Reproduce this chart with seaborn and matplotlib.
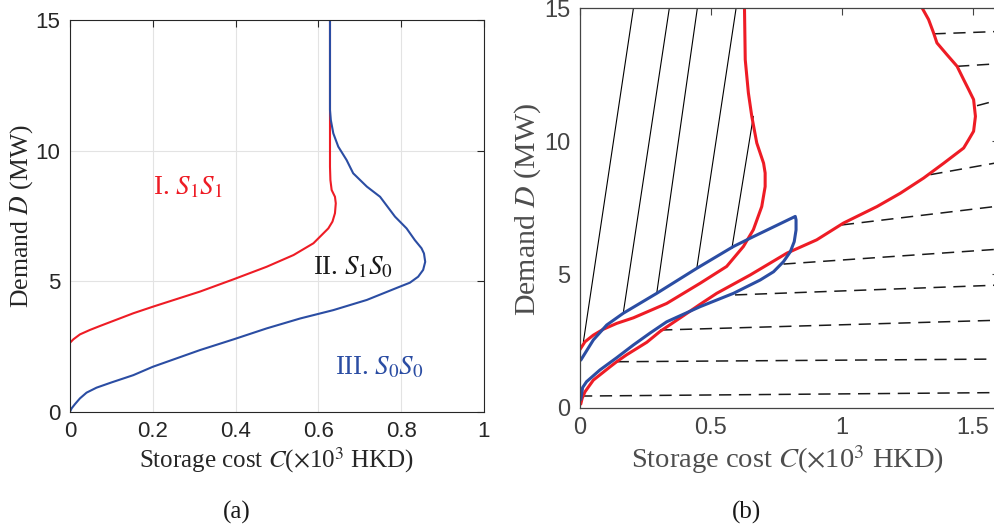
import numpy as np
import matplotlib
matplotlib.use("Agg")
import matplotlib.pyplot as plt
import seaborn as sns

# ---- panel (a): region boundaries, cost C (x1e3 HKD) vs demand D (MW)
a_red_c = [0.0, 0.008, 0.024, 0.048, 0.072, 0.153, 0.200, 0.314, 0.395, 0.475,
           0.540, 0.588, 0.624, 0.634, 0.640, 0.642, 0.640, 0.632, 0.629, 0.628,
           0.628, 0.628, 0.628]
a_red_d = [2.64, 2.77, 2.96, 3.13, 3.28, 3.77, 4.02, 4.60, 5.07, 5.55,
           6.00, 6.45, 7.02, 7.28, 7.60, 7.98, 8.23, 8.49, 8.87, 9.38,
           10.28, 11.17, 15.0]

a_blue_c = [0.0, 0.004, 0.012, 0.024, 0.040, 0.064, 0.100, 0.153, 0.200, 0.314,
            0.395, 0.475, 0.556, 0.636, 0.717, 0.797, 0.821, 0.841, 0.853, 0.858,
            0.855, 0.849, 0.833, 0.813, 0.785, 0.749, 0.717, 0.684, 0.668, 0.648,
            0.636, 0.630, 0.628, 0.628]
a_blue_d = [0.0, 0.13, 0.29, 0.51, 0.73, 0.92, 1.12, 1.40, 1.72, 2.36,
            2.77, 3.19, 3.57, 3.89, 4.28, 4.79, 4.94, 5.17, 5.43, 5.74,
            6.06, 6.26, 6.57, 7.02, 7.47, 8.23, 8.62, 9.13, 9.64, 10.15,
            10.66, 11.17, 11.55, 15.0]

region_names = [r"I. $S_1S_1$", r"II. $S_1S_0$", r"III. $S_0S_0$"]
region_c = [0.20, 0.587, 0.64]
region_d = [8.6, 5.5, 1.67]
region_colors = ["#ee1c25", "#1a1a1a", "#2b4da3"]

# ---- panel (b)
b_red1_c = [0.0, 0.019, 0.051, 0.089, 0.140, 0.204, 0.331, 0.459, 0.560, 0.624,
            0.662, 0.694, 0.707, 0.707, 0.701, 0.675, 0.656, 0.643, 0.631, 0.628]
b_red1_d = [2.18, 2.47, 2.72, 2.94, 3.16, 3.37, 3.91, 4.67, 5.30, 6.05,
            6.68, 7.55, 8.30, 8.81, 9.18, 9.94, 10.94, 11.82, 13.07, 15.08]

b_red2_c = [0.003, 0.008, 0.019, 0.051, 0.115, 0.140, 0.178, 0.255, 0.306, 0.395,
            0.459, 0.522, 0.650, 0.790, 0.904, 1.006, 1.134, 1.223, 1.312, 1.389,
            1.465, 1.484, 1.503, 1.510, 1.503, 1.484, 1.465, 1.440, 1.401, 1.363,
            1.350, 1.331, 1.306]
b_red2_d = [0.13, 0.34, 0.59, 1.03, 1.53, 1.72, 1.98, 2.45, 2.86, 3.45,
            3.88, 4.29, 4.98, 5.80, 6.30, 6.93, 7.55, 8.05, 8.62, 9.18,
            9.75, 10.06, 10.38, 10.94, 11.57, 11.95, 12.32, 12.82, 13.26, 13.70,
            14.08, 14.58, 15.02]

b_blue_c = [0.003, 0.051, 0.102, 0.165, 0.293, 0.446, 0.586, 0.662, 0.822,
            0.825, 0.825, 0.818, 0.803, 0.777, 0.739, 0.688, 0.586, 0.459,
            0.331, 0.268, 0.204, 0.140, 0.076, 0.025, 0.010, 0.003]
b_blue_d = [1.78, 2.54, 3.10, 3.54, 4.29, 5.23, 6.05, 6.42, 7.18,
            7.05, 6.67, 6.23, 5.85, 5.48, 5.10, 4.79, 4.29, 3.79,
            3.22, 2.80, 2.35, 1.87, 1.41, 0.97, 0.75, 0.30]

# solid black segments: start (c, d) -> end (c, d)
solid_c0 = [0.013, 0.166, 0.293, 0.446, 0.580]
solid_d0 = [2.47, 3.60, 4.29, 5.23, 5.98]
solid_c1 = [0.204, 0.341, 0.448, 0.596, 0.662]
solid_d1 = [15.0, 15.0, 15.0, 15.0, 10.94]

# dashed black segments
dash_c0 = [0.0, 0.140, 0.306, 0.592, 0.777, 1.000, 1.338, 1.516, 1.440, 1.350]
dash_d0 = [0.43, 1.72, 2.91, 4.23, 5.39, 6.86, 8.75, 11.34, 12.82, 14.04]
dash_c1 = [1.6, 1.6, 1.6, 1.6, 1.6, 1.6, 1.6, 1.6, 1.6, 1.6]
dash_d1 = [0.56, 1.82, 3.28, 4.60, 5.95, 7.57, 9.21, 11.56, 12.92, 14.13]

RED = "#ee1c25"
BLUE = "#2b4da3"

sns.set_theme(style="white")
plt.rcParams["font.family"] = ["Liberation Sans", "DejaVu Sans"]
plt.rcParams["mathtext.fontset"] = "stix"
SERIF = ["Liberation Serif", "DejaVu Serif"]

fig = plt.figure(figsize=(9.95, 5.29), dpi=100)
ax_a = fig.add_axes([70 / 995, (529 - 411.7) / 529, 414 / 995, 391.7 / 529])
ax_b = fig.add_axes([580 / 995, (529 - 407.5) / 529, 419 / 995, 399.2 / 529])

# ---------- (a)
ax_a.set_axisbelow(True)
sns.lineplot(x=a_red_c, y=a_red_d, sort=False, estimator=None, color=RED, lw=1.5, ax=ax_a)
sns.lineplot(x=a_blue_c, y=a_blue_d, sort=False, estimator=None, color=BLUE, lw=1.5, ax=ax_a)
for name, c, d, col in zip(region_names, region_c, region_d, region_colors):
    ax_a.text(c, d, name, color=col, fontsize=19.5, family=SERIF, va="center", ha="left")

ax_a.set_xlim(0, 1)
ax_a.set_ylim(0, 15)
ax_a.set_xticks([0, 0.2, 0.4, 0.6, 0.8, 1])
ax_a.set_xticklabels(["0", "0.2", "0.4", "0.6", "0.8", "1"])
ax_a.set_yticks([0, 5, 10, 15])
ax_a.grid(True, color="#e3e3e3", lw=0.8)
ax_a.tick_params(direction="in", length=5, width=0.8, top=True, right=True,
                 labelsize=16, colors="#262626", pad=7)
for s in ax_a.spines.values():
    s.set_color("#262626")
    s.set_linewidth(0.8)
ax_a.set_xlabel(r"Storage cost $C$($\times$10$^3$ HKD)", fontsize=18, family=SERIF, color="#262626")
ax_a.set_ylabel(r"Demand $D$ (MW)", fontsize=18.5, family=SERIF, color="#262626")
ax_a.xaxis.set_label_coords(0.498, -0.123)
ax_a.xaxis.label.set_va("center")
ax_a.yaxis.set_label_coords(-0.116, 0.5)
ax_a.yaxis.label.set_va("center")

# ---------- (b)
for c0, d0, c1, d1 in zip(solid_c0, solid_d0, solid_c1, solid_d1):
    sns.lineplot(x=[c0, c1], y=[d0, d1], sort=False, estimator=None, color="black", lw=0.8, ax=ax_b)
for c0, d0, c1, d1 in zip(dash_c0, dash_d0, dash_c1, dash_d1):
    sns.lineplot(x=[c0, c1], y=[d0, d1], sort=False, estimator=None, color="#1a1a1a",
                 lw=1.1, dashes=False, linestyle=(0, (8, 5)), ax=ax_b)
sns.lineplot(x=b_red1_c, y=b_red1_d, sort=False, estimator=None, color=RED, lw=2.2, ax=ax_b)
sns.lineplot(x=b_red2_c, y=b_red2_d, sort=False, estimator=None, color=RED, lw=2.2, ax=ax_b)
sns.lineplot(x=b_blue_c, y=b_blue_d, sort=False, estimator=None, color=BLUE, lw=2.2, ax=ax_b)

ax_b.set_xlim(0, 1.6)
ax_b.set_ylim(0, 15)
ax_b.set_xticks([0, 0.5, 1, 1.5])
ax_b.set_xticklabels(["0", "0.5", "1", "1.5"])
ax_b.set_yticks([0, 5, 10, 15])
ax_b.tick_params(direction="in", length=5, width=0.8, top=True, right=True,
                 labelsize=17, colors="#444444", pad=7)
for s in ax_b.spines.values():
    s.set_color("#444444")
    s.set_linewidth(0.9)
ax_b.set_xlabel(r"Storage cost $C$($\times$10$^3$ HKD)", fontsize=20.5, family=SERIF, color="#4d4d4d")
ax_b.set_ylabel(r"Demand $D$ (MW)", fontsize=21.5, family=SERIF, color="#4d4d4d")
ax_b.xaxis.set_label_coords(0.496, -0.1315)
ax_b.xaxis.label.set_va("center")
ax_b.yaxis.set_label_coords(-0.124, 0.495)
ax_b.yaxis.label.set_va("center")

fig.text(237 / 995, 1 - 512 / 529, "(a)", fontsize=18, family=SERIF, ha="center", va="center", color="#1a1a1a")
fig.text(747 / 995, 1 - 512 / 529, "(b)", fontsize=18, family=SERIF, ha="center", va="center", color="#1a1a1a")

fig.savefig("out.png", dpi=100)
